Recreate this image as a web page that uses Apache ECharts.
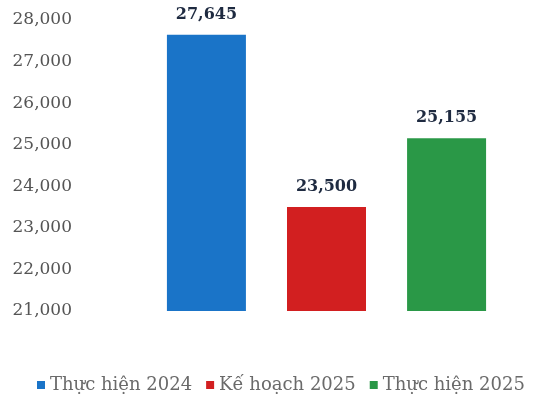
<!DOCTYPE html>
<html>
<head>
<meta charset="utf-8">
<script src="https://cdn.jsdelivr.net/npm/echarts@6/dist/echarts.min.js"></script>
<style>html,body{margin:0;padding:0;background:#fff;}#c{width:534px;height:402px;}</style>
</head>
<body>
<div id="c"></div>
<script>
const seriesNames = ['Thực hiện 2024', 'Kế hoạch 2025', 'Thực hiện 2025'];
const values = [27645, 23500, 25155];
const colors = ['#1a74c8', '#d21f20', '#2a9847'];
const yMin = 21000, yMax = 28000, yStep = 1000;

const FONT = '"DejaVu Serif", serif';
const chart = echarts.init(document.getElementById('c'), null, {renderer: 'canvas'});
const fmt = v => v.toLocaleString('en-US');
chart.setOption({
  animation: false,
  backgroundColor: '#ffffff',
  grid: {left: 147, right: 28, top: 20, bottom: 91},
  legend: {
    bottom: 3, left: 32,
    itemWidth: 8, itemHeight: 8, itemGap: 14,
    icon: 'rect',
    textStyle: {fontFamily: FONT, fontSize: 18, color: '#6a6a6a'},
    data: seriesNames
  },
  xAxis: {
    type: 'category', data: [''],
    axisLine: {show: false}, axisTick: {show: false}, axisLabel: {show: false}
  },
  yAxis: {
    type: 'value', min: yMin, max: yMax, interval: yStep,
    splitLine: {show: false}, axisLine: {show: false}, axisTick: {show: false},
    axisLabel: {margin: 75, fontFamily: FONT, fontSize: 17, color: '#555', formatter: fmt}
  },
  series: seriesNames.map((n, i) => ({
    name: n, type: 'bar', barWidth: 79, barGap: '52%',
    itemStyle: {color: colors[i]},
    label: {show: true, position: 'top', distance: 12, fontFamily: FONT, fontWeight: 'bold', fontSize: 16, color: '#1e2a40', formatter: p => fmt(p.value)},
    data: [values[i]]
  }))
});
</script>
</body>
</html>
